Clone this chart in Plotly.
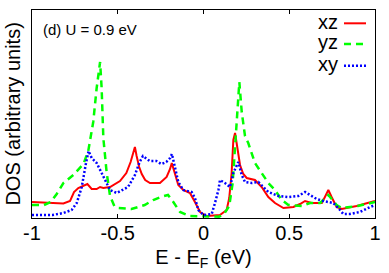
import plotly.graph_objects as go

# ---- data ----
E_xz = [-1.0, -0.914, -0.817, -0.778, -0.755, -0.73, -0.70, -0.677, -0.652, -0.623,
        -0.603, -0.584, -0.545, -0.487, -0.45, -0.425, -0.41, -0.40, -0.39, -0.375,
        -0.36, -0.34, -0.312, -0.28, -0.254, -0.215, -0.195, -0.185, -0.166, -0.147,
        -0.118, -0.079, -0.05, -0.02, 0.019, 0.096, 0.135, 0.150, 0.164, 0.174,
        0.184, 0.199, 0.213, 0.232, 0.252, 0.30, 0.339, 0.378, 0.417, 0.466,
        0.524, 0.563, 0.592, 0.631, 0.69, 0.708, 0.728, 0.747, 0.776, 0.806,
        0.893, 1.0]
dos_xz = [16, 15, 14.5, 17, 26, 30, 32, 34, 29, 29,
          31, 30, 31, 37, 45, 56, 65, 71, 62, 51,
          44, 38, 35, 35, 35, 41, 49, 55, 45, 33,
          28, 25, 16, 6, 2, 3, 8, 20, 45, 78,
          85, 70, 53, 44, 40, 38, 31, 21, 15, 10,
          11, 14, 17, 15, 15, 21, 28, 21, 11, 9,
          12, 17]

E_yz = [-1.0, -0.93, -0.89, -0.856, -0.817, -0.759, -0.70, -0.672, -0.643, -0.623,
        -0.603, -0.594, -0.584, -0.565, -0.545, -0.52, -0.5, -0.42, -0.343, -0.293,
        -0.25, -0.207, -0.176, -0.137, -0.08, 0.09, 0.12, 0.15, 0.17, 0.19,
        0.209, 0.223, 0.242, 0.261, 0.30, 0.339, 0.378, 0.417, 0.456, 0.495,
        0.573, 0.621, 0.68, 0.728, 0.776, 0.806, 0.9, 1.0]
dos_yz = [13, 13, 16, 24, 35, 43, 54, 67, 96, 130,
          156, 130, 80, 46, 22, 12, 10, 9, 13, 18,
          21, 23, 16, 6, 2, 1.3, 4, 12, 35, 85,
          136, 106, 82, 75, 55, 45, 35, 28, 18, 13,
          12, 15, 15, 23, 13, 10, 12, 16]

E_xy = [-1.0, -0.88, -0.817, -0.769, -0.739, -0.71, -0.685, -0.67, -0.652, -0.623,
        -0.594, -0.565, -0.545, -0.506, -0.44, -0.40, -0.372, -0.353, -0.314, -0.275,
        -0.246, -0.217, -0.195, -0.184, -0.166, -0.147, -0.118, -0.069, -0.05, -0.03,
        0.0, 0.048, 0.067, 0.087, 0.096, 0.125, 0.155, 0.174, 0.203, 0.223,
        0.242, 0.281, 0.32, 0.378, 0.436, 0.495, 0.553, 0.592, 0.621, 0.66,
        0.698, 0.757, 0.786, 0.815, 0.854, 0.912, 0.971, 1.0]
dos_xy = [3, 3, 5, 8, 15, 31, 55, 67, 60, 55,
          45, 35, 28, 25, 31, 43, 56, 62, 57, 57,
          54, 56, 60, 64, 51, 36, 28, 26, 20, 8,
          3, 4, 15, 28, 38, 35, 31, 45, 56, 43,
          36, 35, 36, 26, 22, 21, 22, 26, 23, 19,
          17, 15, 10, 4, 4, 6, 11, 13]

x_ticks = [-1, -0.5, 0, 0.5, 1]
x_tick_labels = ["-1", "-0.5", "0", "0.5", "1"]
series_names = ["xz", "yz", "xy"]
panel_label = "(d) U = 0.9 eV"

FONT = "Liberation Sans, Arial, Helvetica, sans-serif"
RED, GREEN, BLUE = "#ff0000", "#00ff00", "#0000ff"

fig = go.Figure()
fig.add_trace(go.Scatter(x=E_xz, y=dos_xz, mode="lines", name=series_names[0],
                         line=dict(color=RED, width=2)))
fig.add_trace(go.Scatter(x=E_yz, y=dos_yz, mode="lines", name=series_names[1],
                         line=dict(color=GREEN, width=2.5, dash="7px,5px")))
fig.add_trace(go.Scatter(x=E_xy, y=dos_xy, mode="lines", name=series_names[2],
                         line=dict(color=BLUE, width=2.5, dash="2px,2px")))

# gnuplot-style key: text on the left, line sample on the right
key_styles = [dict(color=RED, width=2),
              dict(color=GREEN, width=2.5, dash="7px,5px"),
              dict(color=BLUE, width=2.5, dash="2px,2px")]
key_y = [0.936, 0.8365, 0.732]
annotations = []
shapes = []
for name, st, ky in zip(series_names, key_styles, key_y):
    annotations.append(dict(xref="paper", yref="paper", x=0.898, y=ky + 0.008,
                            text=name, showarrow=False, xanchor="right", yanchor="middle",
                            font=dict(family=FONT, size=20, color="#000000")))
    shapes.append(dict(type="line", xref="paper", yref="paper",
                       x0=0.9096, x1=0.9738, y0=ky, y1=ky, line=st))

annotations.append(dict(xref="paper", yref="paper", x=0.026, y=0.905,
                        text=panel_label, showarrow=False, xanchor="left", yanchor="middle",
                        font=dict(family=FONT, size=15, color="#000000")))
annotations.append(dict(xref="paper", yref="paper", x=-0.0554, y=0.502,
                        text="DOS (arbitrary units)", showarrow=False, textangle=-90,
                        xanchor="center", yanchor="middle",
                        font=dict(family=FONT, size=20, color="#000000")))

fig.update_layout(
    width=389, height=273,
    margin=dict(l=32, r=14, t=10, b=55, autoexpand=False),
    paper_bgcolor="white", plot_bgcolor="white",
    showlegend=False,
    font=dict(family=FONT, size=20, color="#000000"),
    annotations=annotations,
    shapes=shapes,
)
fig.update_xaxes(range=[-1, 1], tickvals=x_ticks, ticktext=x_tick_labels,
                 ticks="inside", ticklen=4, tickcolor="#000000",
                 showline=True, linecolor="#000000", linewidth=1, mirror="ticks",
                 showgrid=False, zeroline=False, automargin=False,
                 ticklabelstandoff=-3,
                 tickfont=dict(family=FONT, size=20),
                 title=dict(text="E - E<sub>F</sub> (eV)", font=dict(family=FONT, size=20),
                            standoff=6))
fig.update_yaxes(range=[0, 208], showticklabels=False, ticks="",
                 showline=True, linecolor="#000000", linewidth=1, mirror=True,
                 showgrid=False, zeroline=False, automargin=False)

fig.write_html("out.html",
               config={"displayModeBar": False, "staticPlot": True},
               post_script="document.body.style.margin='0';document.body.style.padding='0';")
